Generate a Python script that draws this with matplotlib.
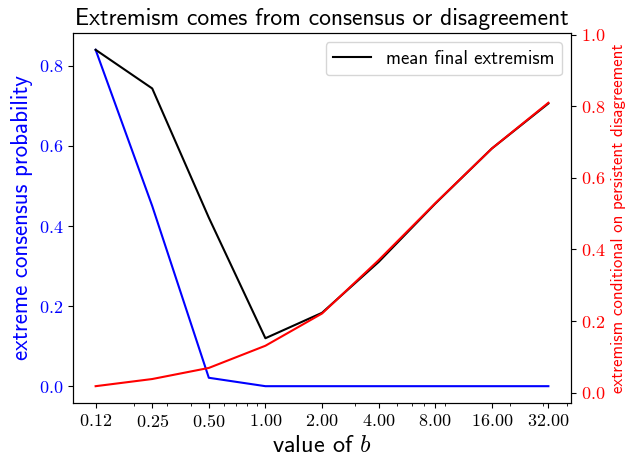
import matplotlib
matplotlib.use("Agg")
import matplotlib.pyplot as plt
from matplotlib.ticker import FuncFormatter, NullFormatter

plt.rcParams['mathtext.fontset'] = 'cm'
plt.rcParams['font.family'] = ['cmss10', 'DejaVu Sans']
plt.rcParams['axes.unicode_minus'] = False

# values of b (x axis, log scale)
b_values = [0.125, 0.25, 0.5, 1.0, 2.0, 4.0, 8.0, 16.0, 32.0]
# left axis
extreme_consensus = [0.84, 0.45, 0.021, 0.0, 0.0, 0.0, 0.0, 0.0, 0.0]
# right axis
cond_extremism = [0.018, 0.038, 0.069, 0.131, 0.221, 0.370, 0.529, 0.682, 0.810]
mean_extremism = [0.958, 0.850, 0.489, 0.152, 0.223, 0.365, 0.528, 0.682, 0.808]

fig, ax = plt.subplots(figsize=(6.38, 4.62), dpi=100)
fig.subplots_adjust(left=0.1144, right=0.895, bottom=0.1277, top=0.9286)

ax.plot(b_values, extreme_consensus, color='blue', lw=1.5)
ax.set_xscale('log')
ax.set_xticks(b_values)
ax.xaxis.set_major_formatter(FuncFormatter(lambda v, p: r'$%.2f$' % v))
ax.xaxis.set_minor_formatter(NullFormatter())
ax.yaxis.set_major_formatter(FuncFormatter(lambda v, p: r'$%.1f$' % v))
ax.tick_params(axis='y', labelcolor='blue', labelsize=13)
ax.tick_params(axis='x', labelsize=13)
ax.set_xlabel(r'value of $b$', fontsize=17.5)
ax.set_ylabel('extreme consensus probability', color='blue', fontsize=16.5)

ax2 = ax.twinx()
ax2.plot(b_values, mean_extremism, color='black', lw=1.5, label='mean final extremism')
ax2.plot(b_values, cond_extremism, color='red', lw=1.5)
ax2.yaxis.set_major_formatter(FuncFormatter(lambda v, p: r'$%.1f$' % v))
ax2.tick_params(axis='y', labelcolor='red', labelsize=13)
ax2.set_ylabel('extremism conditional on persistent disagreement', color='red', fontsize=12.2)
ax2.legend(loc='upper right', fontsize=13.5)

ax.set_title('Extremism comes from consensus or disagreement', fontsize=17)

fig.savefig('out.png', dpi=100)
